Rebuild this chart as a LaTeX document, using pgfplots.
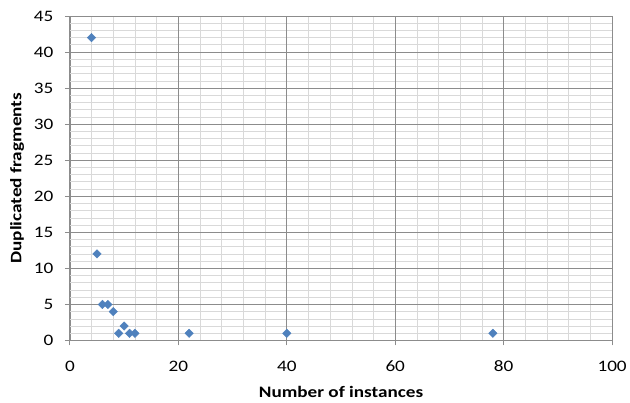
\documentclass[border=0pt]{standalone}
\usepackage{pgfplots}
\pgfplotsset{compat=1.18}
\usepackage{fontspec}
\setmainfont[FakeStretch=1.2]{Carlito}
\definecolor{mk}{HTML}{4F81BD}
\definecolor{majg}{HTML}{8C8C8C}
\definecolor{ming}{HTML}{D9D9D9}
\begin{document}
\begin{tikzpicture}
\begin{axis}[
  scale only axis, width=543bp, height=325bp,
  xmin=0, xmax=100, ymin=0, ymax=45,
  xtick={0,20,...,100}, ytick={0,5,...,45},
  minor x tick num=4, minor y tick num=4,
  grid=both,
  major grid style={majg, line width=0.7bp},
  minor grid style={ming, line width=0.7bp},
  extra x ticks={20,40,60,80}, extra x tick labels={},
  extra x tick style={grid=major, major tick length=0pt},
  axis x line*=bottom, axis y line*=left,
  axis line style={majg, line width=0.8bp, -},
  tick align=outside, major tick length=5bp, minor tick length=0pt,
  tick style={majg, line width=0.8bp},
  /pgf/number format/assume math mode=true,
  ticklabel style={font=\fontsize{16bp}{18bp}\selectfont, black},
  xticklabel style={yshift=-12bp},
  yticklabel style={xshift=-8bp},
  xlabel={\textbf{Number of instances}},
  ylabel={\textbf{Duplicated fragments}},
  label style={font=\fontsize{16bp}{18bp}\selectfont},
  xlabel style={yshift=-2bp},
  ylabel style={yshift=3bp},
  clip=false,
]
\addplot[only marks, mark=square*, mark size=3bp, mk, mark options={fill=mk, draw=mk, rotate=45}] coordinates {
(4,42) (5,12) (6,5) (7,5) (8,4) (9,1) (10,2) (11,1) (12,1) (22,1) (40,1) (78,1)
};
\end{axis}
\path (-70bp,-62bp) rectangle (560bp,341bp);
\end{tikzpicture}
\end{document}
